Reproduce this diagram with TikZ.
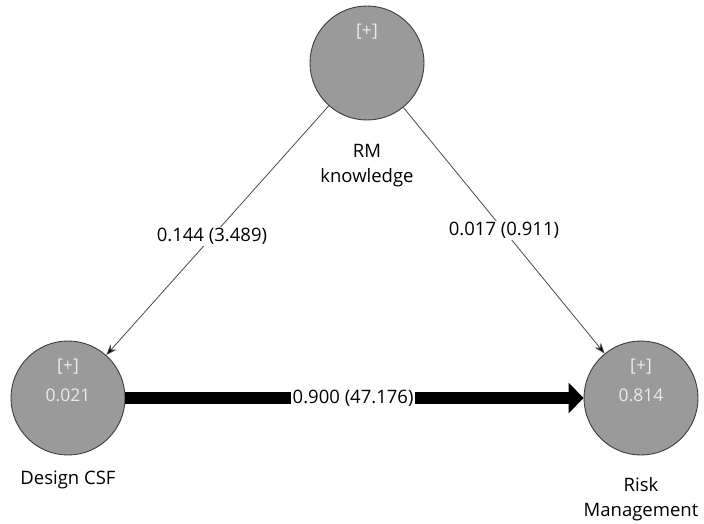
\documentclass[tikz,border=0pt]{standalone}
\usepackage{fontspec}
\setmainfont{Open Sans}
\usetikzlibrary{arrows.meta}
\definecolor{latentfill}{HTML}{9A9A9A}
\definecolor{latentedge}{HTML}{3C3C3C}
\definecolor{pathgray}{HTML}{4A4A4A}
\begin{document}
\begin{tikzpicture}[x=1pt,y=-1pt,
  latent/.style={circle,draw=latentedge,line width=0.9pt,fill=latentfill,minimum size=114pt,inner sep=0pt},
  intext/.style={text=white!92!black,font=\fontsize{17.5}{20}\selectfont},
  caption/.style={font=\fontsize{18.5}{25}\selectfont,align=center},
  coef/.style={fill=white,inner sep=1.5pt,font=\fontsize{18.5}{20}\selectfont},
  thinpath/.style={draw=pathgray,line width=0.8pt,-{Stealth[length=11pt,width=8pt,fill=black]}},
  thickpath/.style={draw=black,line width=12pt,-{Triangle[length=15pt,width=30pt]}}]
\useasboundingbox (0,0) rectangle (704,524);
% latent variables
\node[latent] (rm) at (367,63) {};
\node[latent] (dcsf) at (68,398) {};
\node[latent] (risk) at (641,398) {};
% inner labels
\node[intext] (rmplus) at (367,32) {[+]};
\node[intext] (dplus) at (68,367) {[+]};
\node[intext] (dval) at (68,395) {0.021};
\node[intext] (rplus) at (641,367) {[+]};
\node[intext] (rval) at (641,395) {0.814};
% captions
\node[caption] (rmcap) at (367,166) {RM\\knowledge};
\node[caption] (dcap) at (68,480) {Design CSF};
\node[caption] (rcap) at (641,499) {Risk\\Management};
% structural paths
\draw[thinpath] (rm) -- (dcsf) node[coef,pos=0.525] (c1) {0.144 (3.489)};
\draw[thinpath] (rm) -- (risk) node[coef,pos=0.5] (c2) {0.017 (0.911)};
\draw[thickpath] (dcsf) -- (risk) node[coef,pos=0.497] (c3) {0.900 (47.176)};
\end{tikzpicture}
\end{document}
